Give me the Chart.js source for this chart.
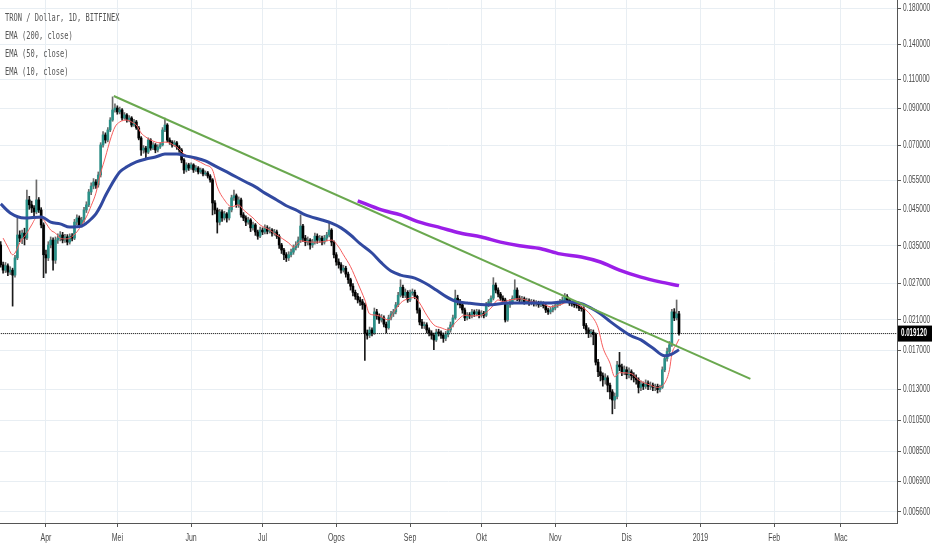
<!DOCTYPE html>
<html><head><meta charset="utf-8">
<script src="https://cdn.jsdelivr.net/npm/chart.js@4.4.1/dist/chart.umd.min.js"></script>
<style>html,body{margin:0;padding:0;background:#fff;overflow:hidden}#wrap{width:932px;height:550px;position:relative}</style>
</head><body><div id="wrap"><canvas id="c" width="932" height="550"></canvas></div>
<script>
// Daily candles, day 0 = 2018-03-13
const firstDay = '2018-03-13';
const opens = [
.0352,.0307,.0296,.0305,.0292,.0296,.0286,.0322,.0377,.0369,
.0382,.0369,.0480,.0464,.0454,.0442,.0480,.0448,.0404,.0329,
.0322,.0352,.0364,.0317,.0364,.0369,.0377,.0364,.0372,.0359,
.0374,.0369,.0412,.0424,.0404,.0418,.0448,.0464,.0507,.0528,
.0543,.0532,.0570,.0701,.0751,.0725,.0777,.0832,.0892,.0904,
.0880,.0892,.0844,.0862,.0832,.0844,.0804,.0821,.0788,.0735,
.0677,.0686,.0667,.0725,.0686,.0701,.0677,.0691,.0701,.0777,
.0804,.0725,.0715,.0701,.0711,.0691,.0677,.0632,.0590,.0611,
.0598,.0611,.0590,.0598,.0582,.0590,.0574,.0578,.0566,.0551,
.0470,.0448,.0412,.0442,.0424,.0436,.0424,.0448,.0487,.0494,
.0464,.0480,.0433,.0424,.0412,.0418,.0396,.0404,.0385,.0374,
.0390,.0385,.0396,.0387,.0390,.0382,.0385,.0374,.0352,.0340,
.0329,.0322,.0329,.0335,.0345,.0352,.0364,.0401,.0369,.0359,
.0364,.0352,.0359,.0374,.0364,.0369,.0359,.0369,.0377,.0390,
.0359,.0329,.0313,.0307,.0296,.0300,.0288,.0277,.0265,.0254,
.0247,.0241,.0238,.0233,.0192,.0189,.0196,.0192,.0222,.0216,
.0210,.0213,.0204,.0199,.0213,.0219,.0222,.0233,.0249,.0263,
.0249,.0254,.0241,.0253,.0254,.0247,.0225,.0207,.0202,.0203,
.0196,.0192,.0189,.0183,.0193,.0192,.0189,.0185,.0190,.0196,
.0203,.0213,.0244,.0238,.0233,.0225,.0213,.0217,.0216,.0222,
.0219,.0222,.0217,.0220,.0217,.0233,.0238,.0244,.0267,.0258,
.0251,.0244,.0241,.0210,.0233,.0238,.0244,.0258,.0244,.0241,
.0243,.0238,.0240,.0236,.0238,.0235,.0236,.0233,.0235,.0232,
.0225,.0222,.0225,.0228,.0232,.0235,.0238,.0241,.0247,.0241,
.0236,.0235,.0233,.0232,.0228,.0227,.0202,.0196,.0192,.0193,
.0190,.0157,.0147,.0143,.0139,.0141,.0134,.0128,.0121,.0124,
.0154,.0152,.0147,.0149,.0144,.0147,.0143,.0141,.0139,.0132,
.0135,.0133,.0136,.0133,.0134,.0132,.0133,.0130,.0132,.0149,
.0161,.0169,.0177,.0222,.0213,.0219];
const highs = [
.0360,.0313,.0312,.0309,.0303,.0300,.0328,.0427,.0388,.0390,
.0395,.0514,.0492,.0476,.0462,.0551,.0488,.0455,.0410,.0340,
.0360,.0372,.0370,.0372,.0380,.0386,.0384,.0379,.0378,.0380,
.0381,.0420,.0433,.0430,.0426,.0456,.0474,.0516,.0540,.0556,
.0552,.0582,.0712,.0768,.0762,.0790,.0846,.0976,.0930,.0918,
.0910,.0900,.0876,.0870,.0858,.0852,.0836,.0830,.0796,.0742,
.0698,.0694,.0736,.0732,.0712,.0708,.0702,.0712,.0790,.0844,
.0812,.0736,.0722,.0722,.0718,.0698,.0684,.0638,.0620,.0618,
.0620,.0616,.0608,.0604,.0598,.0596,.0586,.0584,.0572,.0556,
.0478,.0454,.0450,.0448,.0444,.0440,.0456,.0496,.0514,.0500,
.0490,.0486,.0440,.0430,.0426,.0422,.0412,.0408,.0390,.0398,
.0396,.0404,.0402,.0398,.0394,.0392,.0390,.0378,.0356,.0344,
.0334,.0336,.0342,.0352,.0360,.0372,.0433,.0406,.0376,.0372,
.0368,.0366,.0382,.0380,.0376,.0374,.0376,.0384,.0410,.0394,
.0362,.0334,.0320,.0312,.0306,.0304,.0292,.0280,.0270,.0258,
.0252,.0246,.0242,.0236,.0196,.0200,.0199,.0228,.0226,.0219,
.0218,.0216,.0207,.0217,.0223,.0226,.0237,.0254,.0277,.0267,
.0260,.0257,.0258,.0260,.0258,.0249,.0228,.0211,.0207,.0206,
.0199,.0195,.0192,.0197,.0197,.0195,.0192,.0194,.0199,.0207,
.0217,.0258,.0249,.0242,.0236,.0228,.0221,.0221,.0226,.0225,
.0226,.0225,.0224,.0223,.0237,.0242,.0248,.0281,.0271,.0262,
.0254,.0248,.0244,.0237,.0242,.0248,.0277,.0262,.0248,.0247,
.0246,.0244,.0243,.0242,.0241,.0240,.0239,.0239,.0238,.0234,
.0228,.0229,.0232,.0236,.0239,.0242,.0246,.0252,.0250,.0244,
.0239,.0238,.0236,.0234,.0231,.0230,.0205,.0199,.0197,.0196,
.0192,.0160,.0152,.0146,.0145,.0143,.0136,.0130,.0127,.0158,
.0168,.0155,.0153,.0152,.0151,.0149,.0146,.0144,.0141,.0138,
.0137,.0139,.0138,.0137,.0136,.0135,.0135,.0134,.0152,.0164,
.0173,.0181,.0226,.0227,.0241,.0223];
const lows = [
.0302,.0290,.0291,.0285,.0287,.0231,.0282,.0318,.0360,.0355,
.0352,.0365,.0450,.0440,.0428,.0436,.0440,.0396,.0281,.0290,
.0316,.0345,.0296,.0310,.0356,.0362,.0357,.0358,.0352,.0354,
.0362,.0365,.0405,.0398,.0398,.0412,.0440,.0458,.0498,.0518,
.0520,.0524,.0562,.0690,.0710,.0716,.0768,.0825,.0878,.0866,
.0868,.0832,.0836,.0820,.0822,.0794,.0796,.0780,.0726,.0652,
.0662,.0640,.0660,.0676,.0678,.0664,.0668,.0684,.0696,.0768,
.0716,.0704,.0690,.0694,.0680,.0666,.0620,.0576,.0582,.0588,
.0592,.0580,.0584,.0574,.0576,.0566,.0568,.0558,.0542,.0433,
.0436,.0382,.0404,.0414,.0418,.0412,.0418,.0442,.0478,.0456,
.0456,.0426,.0416,.0402,.0406,.0386,.0390,.0376,.0366,.0370,
.0378,.0380,.0380,.0382,.0374,.0376,.0368,.0344,.0332,.0318,
.0314,.0316,.0324,.0330,.0340,.0346,.0358,.0360,.0350,.0352,
.0342,.0346,.0354,.0356,.0358,.0352,.0354,.0362,.0372,.0350,
.0322,.0306,.0300,.0290,.0292,.0282,.0270,.0258,.0248,.0242,
.0236,.0232,.0226,.0159,.0184,.0186,.0188,.0190,.0211,.0205,
.0207,.0200,.0192,.0197,.0210,.0215,.0219,.0230,.0246,.0245,
.0245,.0237,.0238,.0249,.0243,.0220,.0203,.0198,.0198,.0192,
.0188,.0184,.0171,.0181,.0188,.0185,.0180,.0182,.0187,.0193,
.0200,.0211,.0233,.0228,.0220,.0209,.0210,.0212,.0213,.0215,
.0216,.0213,.0214,.0213,.0215,.0230,.0235,.0241,.0253,.0246,
.0240,.0236,.0207,.0208,.0229,.0234,.0241,.0240,.0237,.0238,
.0234,.0235,.0232,.0233,.0231,.0231,.0229,.0230,.0228,.0221,
.0218,.0219,.0222,.0225,.0229,.0232,.0235,.0238,.0237,.0232,
.0231,.0229,.0228,.0224,.0223,.0198,.0191,.0186,.0187,.0177,
.0154,.0142,.0138,.0133,.0135,.0128,.0122,.0110,.0114,.0122,
.0148,.0143,.0144,.0140,.0141,.0139,.0137,.0135,.0127,.0129,
.0130,.0131,.0130,.0130,.0129,.0129,.0127,.0128,.0131,.0147,
.0158,.0166,.0175,.0209,.0210,.0189];
const closes = [
.0307,.0296,.0305,.0292,.0296,.0286,.0322,.0377,.0369,.0382,
.0369,.0480,.0464,.0454,.0442,.0480,.0448,.0404,.0329,.0322,
.0352,.0364,.0317,.0364,.0369,.0377,.0364,.0372,.0359,.0374,
.0369,.0412,.0424,.0404,.0418,.0448,.0464,.0507,.0528,.0543,
.0532,.0570,.0701,.0751,.0725,.0777,.0832,.0892,.0904,.0880,
.0892,.0844,.0862,.0832,.0844,.0804,.0821,.0788,.0735,.0677,
.0686,.0667,.0725,.0686,.0701,.0677,.0691,.0701,.0777,.0804,
.0725,.0715,.0701,.0711,.0691,.0677,.0632,.0590,.0611,.0598,
.0611,.0590,.0598,.0582,.0590,.0574,.0578,.0566,.0551,.0470,
.0448,.0412,.0442,.0424,.0436,.0424,.0448,.0487,.0494,.0464,
.0480,.0433,.0424,.0412,.0418,.0396,.0404,.0385,.0374,.0390,
.0385,.0396,.0387,.0390,.0382,.0385,.0374,.0352,.0340,.0329,
.0322,.0329,.0335,.0345,.0352,.0364,.0401,.0369,.0359,.0364,
.0352,.0359,.0374,.0364,.0369,.0359,.0369,.0377,.0390,.0359,
.0329,.0313,.0307,.0296,.0300,.0288,.0277,.0265,.0254,.0247,
.0241,.0238,.0233,.0192,.0189,.0196,.0192,.0222,.0216,.0210,
.0213,.0204,.0199,.0213,.0219,.0222,.0233,.0249,.0263,.0249,
.0254,.0241,.0253,.0254,.0247,.0225,.0207,.0202,.0203,.0196,
.0192,.0189,.0183,.0193,.0192,.0189,.0185,.0190,.0196,.0203,
.0213,.0244,.0238,.0233,.0225,.0213,.0217,.0216,.0222,.0219,
.0222,.0217,.0220,.0217,.0233,.0238,.0244,.0267,.0258,.0251,
.0244,.0241,.0210,.0233,.0238,.0244,.0258,.0244,.0241,.0243,
.0238,.0240,.0236,.0238,.0235,.0236,.0233,.0235,.0232,.0225,
.0222,.0225,.0228,.0232,.0235,.0238,.0241,.0247,.0241,.0236,
.0235,.0233,.0232,.0228,.0227,.0202,.0196,.0192,.0193,.0190,
.0157,.0147,.0143,.0139,.0141,.0134,.0128,.0121,.0124,.0154,
.0152,.0147,.0149,.0144,.0147,.0143,.0141,.0139,.0132,.0135,
.0133,.0136,.0133,.0134,.0132,.0133,.0130,.0132,.0149,.0161,
.0169,.0177,.0222,.0213,.0219,.01912];

// Indicator lines (day index, value)
const ema10Days = [1,3,5,6,8,11,13,15,17,19,21,23,25,27,29,32,34,36,38,40,42,44,46,48,50,53,55,57,59,61,63,67,69,74,77,82,86,89,91,94,97,100,102,106,109,113,116,121,123,126,130,134,139,142,144,147,150,153,155,158,163,165,168,171,174,176,179,182,185,188,191,195,197,202,206,209,211,214,218,223,227,231,235,239,244,248,251,253,256,258,260,265,268,273,276,279,281,282,284,285];
const ema10Values = [.0369,.0347,.0329,.0333,.0357,.0382,.0404,.0424,.0424,.0409,.0390,.0382,.0369,.0367,.0369,.0385,.0404,.0427,.0461,.0503,.0578,.0645,.0725,.0793,.0821,.0832,.0821,.0804,.0761,.0740,.0725,.0711,.0715,.0691,.0659,.0632,.0611,.0590,.0525,.0480,.0458,.0464,.0448,.0424,.0404,.0390,.0377,.0357,.0347,.0362,.0359,.0359,.0364,.0347,.0329,.0303,.0271,.0241,.0219,.0217,.0210,.0221,.0236,.0243,.0245,.0236,.0217,.0203,.0199,.0196,.0206,.0217,.0216,.0217,.0228,.0241,.0238,.0241,.0243,.0238,.0236,.0230,.0233,.0238,.0230,.0217,.0199,.0174,.0156,.0142,.0146,.0145,.0139,.0134,.0132,.0136,.0149,.0166,.0178,.0184];
const ema50Days = [0,4,10,17,21,25,29,34,36,38,40,42,44,46,48,50,53,57,61,65,69,74,78,82,86,90,95,99,103,107,111,116,120,124,128,135,139,143,147,151,156,160,164,168,174,179,183,187,191,196,205,213,221,230,237,244,248,252,256,261,265,269,274,279,282,285];
const ema50Values = [.0467,.0439,.0424,.0427,.0412,.0407,.0398,.0401,.0409,.0421,.0436,.0461,.0494,.0525,.0555,.0582,.0603,.0624,.0636,.0645,.0658,.0658,.0649,.0641,.0628,.0607,.0582,.0562,.0543,.0525,.0503,.0480,.0461,.0448,.0433,.0418,.0409,.0396,.0377,.0355,.0333,.0311,.0294,.0286,.0280,.0269,.0258,.0247,.0239,.0236,.0233,.0236,.0236,.0236,.0238,.0235,.0228,.0219,.0208,.0196,.0188,.0183,.0173,.0164,.0166,.0171];
const ema200Days = [150,160,168,176,185,193,202,210,218,227,235,244,252,260,269,277,285];
const ema200Values = [.0477,.0448,.0433,.0412,.0396,.0382,.0372,.0359,.0350,.0343,.0331,.0324,.0313,.0296,.0282,.0273,.0266];
const trendDays = [47.5, 315];
const trendValues = [0.0982, 0.0140];
const lastPrice = 0.01912;

const monthTickDays = [19,49,80,110,141,172,202,233,263,294,325,353];
const monthLabels = ['Apr','Mei','Jun','Jul','Ogos','Sep','Okt','Nov','Dis','2019','Feb','Mac'];
const yTickValues = [0.18,0.14,0.11,0.09,0.07,0.055,0.045,0.035,0.027,0.021,0.017,0.013,0.0105,0.0085,0.0069,0.0056];
const legendLines = ['TRON / Dollar, 1D, BITFINEX','EMA (200, close)','EMA (50, close)','EMA (10, close)'];

const days = closes.map((_, i) => i);
const isUp = days.map(i => closes[i] >= opens[i]);
const wickData = days.map(i => ({x: i, y: [lows[i], highs[i]]}));
const bodyData = days.map(i => ({x: i, y: [opens[i], closes[i]]}));
const pts = (xs, ys) => xs.map((x, i) => ({x: x, y: ys[i]}));

const overlay = {
  id: 'overlay',
  afterDraw(chart) {
    const c = chart.ctx, ys = chart.scales.y, xs = chart.scales.x;
    c.save();
    c.textBaseline = 'middle';
    c.fillStyle = '#555';
    c.font = '11px "DejaVu Sans Mono"';
    legendLines.forEach((t, i) => {
      c.save(); c.translate(5, 18 + 18 * i); c.scale(0.64, 1); c.fillText(t, 0, 0); c.restore();
    });
    c.fillStyle = '#4a4a4a';
    c.font = '10px "Liberation Sans"';
    yTickValues.forEach(v => {
      const y = ys.getPixelForValue(v);
      c.save(); c.translate(903, y); c.scale(0.65, 1); c.fillText(v.toFixed(6), 0, 0); c.restore();
    });
    const py = ys.getPixelForValue(lastPrice);
    c.fillStyle = '#000';
    c.fillRect(898, py - 8, 34, 16);
    c.fillStyle = '#fff';
    c.font = 'bold 10px "Liberation Sans"';
    c.save(); c.translate(901, py); c.scale(0.62, 1); c.fillText(lastPrice.toFixed(6), 0, 0); c.restore();
    c.fillStyle = '#4a4a4a';
    c.font = '10px "Liberation Sans"';
    c.textAlign = 'center';
    monthTickDays.forEach((d, i) => {
      const x = xs.getPixelForValue(d);
      c.save(); c.translate(x, 538); c.scale(0.7, 1); c.fillText(monthLabels[i], 0, 0); c.restore();
    });
    c.restore();
  }
};

new Chart(document.getElementById('c'), {
  type: 'bar',
  data: {
    datasets: [
      {type: 'bar', label: 'wick', data: wickData, backgroundColor: days.map(i => isUp[i] ? '#6b6b6b' : '#1a1a1a'), barThickness: 1, grouped: false, order: 10},
      {type: 'bar', label: 'body', data: bodyData, backgroundColor: days.map(i => isUp[i] ? '#2a9088' : '#000000'), barThickness: 2, minBarLength: 1, grouped: false, order: 9},
      {type: 'line', label: 'last', data: [{x: -5, y: lastPrice}, {x: 400, y: lastPrice}], borderColor: '#000', borderWidth: 1, borderDash: [1, 1], pointRadius: 0, order: 8},
      {type: 'line', label: 'EMA (10, close)', data: pts(ema10Days, ema10Values), borderColor: '#f65c5c', borderWidth: 1, pointRadius: 0, cubicInterpolationMode: 'monotone', order: 5},
      {type: 'line', label: 'EMA (50, close)', data: pts(ema50Days, ema50Values), borderColor: '#3149a0', borderWidth: 3, pointRadius: 0, cubicInterpolationMode: 'monotone', order: 4},
      {type: 'line', label: 'EMA (200, close)', data: pts(ema200Days, ema200Values), borderColor: '#9b1ee8', borderWidth: 3.5, pointRadius: 0, cubicInterpolationMode: 'monotone', order: 3},
      {type: 'line', label: 'trend', data: pts(trendDays, trendValues), borderColor: '#6aa84f', borderWidth: 2, pointRadius: 0, order: 2}
    ]
  },
  options: {
    responsive: false,
    animation: false,
    layout: {padding: 0},
    plugins: {legend: {display: false}, tooltip: {enabled: false}},
    scales: {
      x: {
        type: 'linear', min: -0.3, max: 376.6, offset: false,
        afterBuildTicks: s => { s.ticks = monthTickDays.map(v => ({value: v})); },
        afterFit: s => { s.height = 27; },
        ticks: {display: false},
        grid: {color: '#e8eef3', tickColor: '#555', tickLength: 4, drawTicks: true, offset: false},
        border: {display: true, color: '#555', width: 1}
      },
      y: {
        type: 'logarithmic', position: 'right', min: 0.005187, max: 0.1902,
        afterBuildTicks: s => { s.ticks = yTickValues.map(v => ({value: v})); },
        afterFit: s => { s.width = 35; },
        ticks: {display: false},
        grid: {color: '#e8eef3', tickColor: '#555', tickLength: 4, drawTicks: true},
        border: {display: true, color: '#555', width: 1}
      }
    }
  },
  plugins: [overlay]
});
</script>
</body></html>
